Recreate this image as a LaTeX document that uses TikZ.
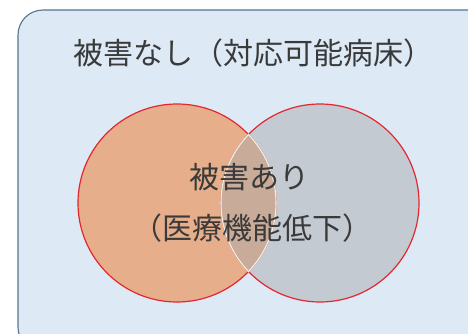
\documentclass[tikz,border=0pt]{standalone}
\usepackage{fontspec}
\setmainfont{Noto Sans CJK JP}
\definecolor{boxfill}{HTML}{DDEAF6}
\definecolor{boxline}{HTML}{56748C}
\definecolor{leftfill}{HTML}{E6AE8A}
\definecolor{rightfill}{HTML}{C4CAD2}
\definecolor{lensfill}{HTML}{C8AB98}
\definecolor{ringred}{HTML}{E4262F}
\definecolor{lenslight}{HTML}{F2EEEA}
\definecolor{txt}{HTML}{3A3A3A}
\tikzset{
  outerbox/.style={draw=boxline, line width=1.1pt, fill=boxfill, rounded corners=25pt},
  ring/.style={circle, inner sep=0pt, minimum size=198pt},
  label/.style={text=txt, font=\fontsize{30}{34}\selectfont, inner sep=0pt}
}
\begin{document}
\begin{tikzpicture}[x=1pt,y=-1pt]
\useasboundingbox (0,0) rectangle (468,334);
\begin{scope}
  \clip (0,0) rectangle (468,334);
  \path[outerbox] (18,10) rectangle (492,352);
\end{scope}
\node[ring, fill=leftfill] (L) at (177,203) {};
\node[ring, fill=rightfill] (R) at (320,203) {};
\draw[ringred, line width=1.2pt] (L.center) circle (99);
\draw[ringred, line width=1.2pt] (R.center) circle (99);
\begin{scope}
  \clip (L.center) circle (99.6);
  \fill[lensfill] (R.center) circle (99.6);
  \draw[lenslight, line width=1.1pt] (R.center) circle (99);
\end{scope}
\begin{scope}
  \clip (R.center) circle (99.6);
  \draw[lenslight, line width=1.1pt] (L.center) circle (99);
\end{scope}
\node[label] (title) at (253,53) {被害なし（対応可能病床）};
\node[label] (hit1) at (249,177) {被害あり};
\node[label] (hit2) at (252,228) {（医療機能低下）};
\end{tikzpicture}
\end{document}
